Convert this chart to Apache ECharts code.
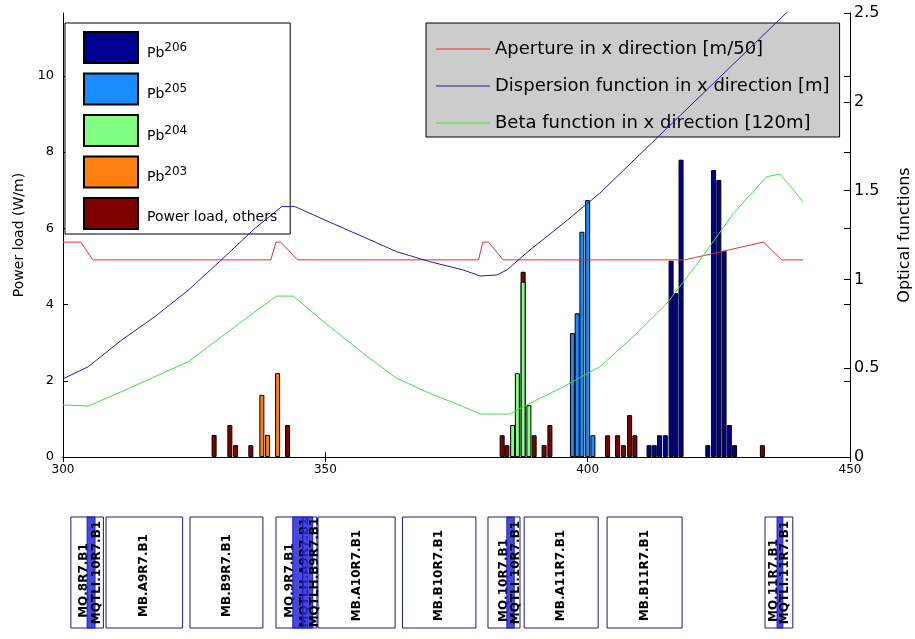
<!DOCTYPE html>
<html>
<head>
<meta charset="utf-8">
<script src="https://cdn.jsdelivr.net/npm/echarts@6/dist/echarts.min.js"></script>
<style>
html, body { margin: 0; padding: 0; background: #fff; }
#chart { width: 915px; height: 639px; }
</style>
</head>
<body>
<div id="chart"></div>
<script>
// power load histograms: position [m] / load [W/m]
var pb206Pos = [411.7, 412.7, 413.7, 414.8, 415.9, 416.8, 417.8, 422.9, 424.0, 425.0, 426.0, 427.0, 428.0];
var pb206Load = [0.31, 0.31, 0.57, 0.57, 5.15, 4.3, 7.8, 0.31, 7.53, 7.27, 5.4, 0.84, 0.31];
var pb205Pos = [397.1, 398.0, 398.9, 400.0, 401.0];
var pb205Load = [3.25, 3.77, 5.91, 6.74, 0.57];
var pb204Pos = [385.7, 386.6, 387.7, 388.8];
var pb204Load = [0.84, 2.2, 4.6, 1.36];
var pb203Pos = [337.9, 339.0, 340.9];
var pb203Load = [1.63, 0.58, 2.2];
var otherPos = [328.8, 331.8, 332.9, 335.8, 342.8, 383.7, 384.6, 387.7, 389.8, 391.7, 392.8, 403.8, 405.7, 406.8, 408.0, 409.0, 433.3];
var otherLoad = [0.58, 0.84, 0.31, 0.31, 0.84, 0.57, 0.31, 4.86, 0.57, 0.31, 0.84, 0.57, 0.57, 0.31, 1.1, 0.57, 0.31];

// optical functions (right axis)
var apertureX = [300, 303.4, 305.7, 339.6, 340.6, 341.5, 344.7, 379.2, 380.0, 381.1, 383.9, 418.5, 433.5, 437.0, 441.1];
var apertureY = [1.21, 1.21, 1.11, 1.11, 1.21, 1.21, 1.11, 1.11, 1.21, 1.21, 1.11, 1.11, 1.21, 1.11, 1.11];
var dispX = [300, 304.8, 311.2, 317.5, 323.9, 330.2, 336.6, 341.7, 344.2, 351.0, 357.2, 363.6, 369.9, 376.3, 379.5, 382.7, 384.6, 389.0, 395.4, 402.3, 412.8, 441];
var dispY = [0.44, 0.508, 0.659, 0.79, 0.94, 1.11, 1.288, 1.41, 1.41, 1.32, 1.24, 1.156, 1.10, 1.053, 1.019, 1.025, 1.053, 1.166, 1.316, 1.485, 1.785, 2.59];
var betaX = [300, 304.8, 311.2, 317.5, 323.9, 330.2, 336.6, 340.7, 343.9, 349.3, 357.2, 363.6, 369.9, 376.3, 379.5, 385.2, 389.0, 395.4, 402.3, 408.7, 415.1, 421.4, 427.8, 434.1, 436.7, 441.1];
var betaY = [0.293, 0.287, 0.368, 0.452, 0.537, 0.677, 0.818, 0.906, 0.906, 0.771, 0.584, 0.443, 0.359, 0.283, 0.242, 0.242, 0.302, 0.396, 0.508, 0.677, 0.865, 1.109, 1.372, 1.578, 1.593, 1.437];

// magnet layout below the plot
var magnetNames = ['MQ.8R7.B1', 'MB.A9R7.B1', 'MB.B9R7.B1', 'MQ.9R7.B1', 'MB.A10R7.B1', 'MB.B10R7.B1', 'MQ.10R7.B1', 'MB.A11R7.B1', 'MB.B11R7.B1', 'MQ.11R7.B1'];
var magnetStart = [301.5, 308.2, 324.2, 340.6, 348.6, 364.7, 381.0, 387.9, 403.7, 433.8];
var magnetEnd = [307.7, 322.8, 338.1, 348.4, 363.3, 378.7, 387.1, 402.0, 418.0, 439.1];
var corrNames = ['MQTLI.10R7.B1', 'MQTLH.A9R7.B1', 'MQTLH.B9R7.B1', 'MQTLI.10R7.B1', 'MQTLI.11R7.B1'];
var corrStart = [304.6, 343.8, 345.7, 384.6, 436.1];
var corrEnd = [306.1, 345.7, 347.6, 386.0, 437.2];

var FONT = 'DejaVu Sans';

function pairs(xs, ys) {
    return xs.map(function (x, i) { return [x, ys[i]]; });
}

function barSeries(name, color, xs, ys) {
    return {
        name: name,
        type: 'bar',
        xAxisIndex: 0,
        yAxisIndex: 0,
        barWidth: 5,
        barGap: '-100%',
        itemStyle: { color: color, borderColor: '#000', borderWidth: 1 },
        data: pairs(xs, ys)
    };
}

function lineSeries(name, color, xs, ys) {
    return {
        name: name,
        type: 'line',
        xAxisIndex: 0,
        yAxisIndex: 1,
        symbol: 'none',
        clip: true,
        z: 5,
        lineStyle: { color: color, width: 1 },
        itemStyle: { color: color },
        data: pairs(xs, ys)
    };
}

var chart = echarts.init(document.getElementById('chart'));

chart.setOption({
    animation: false,
    backgroundColor: '#fff',
    textStyle: { fontFamily: FONT },
    grid: [
        { left: 63, right: 65, top: 13, height: 444, containLabel: false, outerBoundsMode: 'none' },
        { left: 63, right: 65, top: 517, height: 111, containLabel: false, outerBoundsMode: 'none' }
    ],
    legend: [
        {
            orient: 'vertical',
            left: 65, top: 23,
            padding: [8, 13, 4, 18],
            itemWidth: 54, itemHeight: 31, itemGap: 8.5,
            icon: 'rect',
            backgroundColor: '#fff',
            borderColor: '#000', borderWidth: 1,
            data: ['Pb206', 'Pb205', 'Pb204', 'Pb203', 'Power load, others'],
            formatter: function (name) {
                if (name.indexOf('Pb') === 0) return '{b|Pb}{s|' + name.slice(2) + '}';
                return '{p|' + name + '}';
            },
            textStyle: {
                color: '#000',
                rich: {
                    b: { fontSize: 14, fontFamily: FONT, verticalAlign: 'bottom', lineHeight: 25, padding: [0, 0, 0, 4] },
                    s: { fontSize: 12, fontFamily: FONT, verticalAlign: 'middle', lineHeight: 25 },
                    p: { fontSize: 14, fontFamily: FONT, verticalAlign: 'bottom', lineHeight: 22, padding: [0, 0, 0, 4] }
                }
            }
        },
        {
            orient: 'vertical',
            left: 426, top: 23,
            padding: [16, 10, 4, 10],
            itemWidth: 54, itemHeight: 1, itemGap: 17,
            icon: 'rect',
            backgroundColor: '#cccccc',
            borderColor: '#000', borderWidth: 1,
            data: ['Aperture in x direction [m/50]', 'Dispersion function in x direction [m]', 'Beta function in x direction [120m]'],
            textStyle: { color: '#000', fontSize: 18, lineHeight: 20, fontFamily: FONT }
        }
    ],
    xAxis: [
        {
            type: 'value', gridIndex: 0, min: 300, max: 450, interval: 50,
            axisLine: { lineStyle: { color: '#000' } },
            axisTick: { inside: true, length: 5, lineStyle: { color: '#000' } },
            axisLabel: { color: '#000', fontSize: 12, margin: 7 },
            splitLine: { show: false }
        },
        {
            type: 'value', gridIndex: 0, position: 'top', min: 300, max: 450, interval: 50,
            axisLine: { lineStyle: { color: '#000' } },
            axisTick: { inside: true, length: 5, lineStyle: { color: '#000' } },
            axisLabel: { show: false },
            splitLine: { show: false }
        },
        {
            type: 'value', gridIndex: 1, min: 300, max: 450, show: false
        }
    ],
    yAxis: [
        {
            type: 'value', gridIndex: 0, position: 'left', min: 0, max: 11.65, interval: 2,
            name: 'Power load (W/m)', nameLocation: 'middle', nameGap: 37,
            nameTextStyle: { color: '#000', fontSize: 14 },
            axisLine: { show: true, lineStyle: { color: '#000' } },
            axisTick: { show: true, inside: true, length: 5, lineStyle: { color: '#000' } },
            axisLabel: { color: '#000', fontSize: 13, margin: 9, showMaxLabel: false },
            splitLine: { show: false }
        },
        {
            type: 'value', gridIndex: 0, position: 'right', min: 0, max: 2.5, interval: 0.5,
            name: 'Optical functions', nameLocation: 'middle', nameGap: 47,
            nameTextStyle: { color: '#000', fontSize: 16 },
            axisLine: { show: true, lineStyle: { color: '#000' } },
            axisTick: { show: true, inside: true, length: 6, lineStyle: { color: '#000' } },
            axisLabel: { color: '#000', fontSize: 16, margin: 4 },
            splitLine: { show: false }
        },
        {
            type: 'value', gridIndex: 0, position: 'right', min: 0, max: 11.65, interval: 2,
            axisLine: { show: true, lineStyle: { color: '#000' } },
            axisTick: { show: true, inside: true, length: 6, lineStyle: { color: '#000' } },
            axisLabel: { show: false },
            splitLine: { show: false }
        },
        {
            type: 'value', gridIndex: 1, min: 0, max: 1, show: false
        }
    ],
    series: [
        barSeries('Power load, others', '#800000', otherPos, otherLoad),
        barSeries('Pb203', '#ff8010', pb203Pos, pb203Load),
        barSeries('Pb204', '#80ff80', pb204Pos, pb204Load),
        barSeries('Pb205', '#1a8cff', pb205Pos, pb205Load),
        barSeries('Pb206', '#000090', pb206Pos, pb206Load),
        lineSeries('Aperture in x direction [m/50]', '#e03030', apertureX, apertureY),
        lineSeries('Dispersion function in x direction [m]', '#2020a0', dispX, dispY),
        lineSeries('Beta function in x direction [120m]', '#40e040', betaX, betaY),
        {
            type: 'custom',
            xAxisIndex: 2,
            yAxisIndex: 3,
            clip: false,
            data: pairs(magnetStart, magnetEnd),
            renderItem: function (params, api) {
                var i = params.dataIndex;
                var s = api.value(0), e = api.value(1);
                var p0 = api.coord([s, 1]);
                var p1 = api.coord([e, 0]);
                var isQuad = magnetNames[i].indexOf('MQ') === 0;
                var tx = (p0[0] + p1[0]) / 2;
                if (isQuad) {
                    var c = corrStart.findIndex(function (v, k) { return v >= s && corrEnd[k] <= e; });
                    tx = api.coord([corrStart[c], 0])[0] - 3;
                }
                return {
                    type: 'group',
                    children: [
                        {
                            type: 'rect',
                            shape: { x: p0[0], y: p0[1], width: p1[0] - p0[0], height: p1[1] - p0[1] },
                            style: { fill: '#fff', stroke: '#1a1a80', lineWidth: 1 }
                        },
                        {
                            type: 'text',
                            x: tx, y: (p0[1] + p1[1]) / 2 + (isQuad ? 8 : 3),
                            rotation: Math.PI / 2,
                            style: { text: magnetNames[i], fill: '#000', font: 'bold 12px ' + FONT, align: 'center', verticalAlign: 'middle' }
                        }
                    ]
                };
            }
        },
        {
            type: 'custom',
            xAxisIndex: 2,
            yAxisIndex: 3,
            clip: false,
            z: 3,
            data: pairs(corrStart, corrEnd),
            renderItem: function (params, api) {
                var i = params.dataIndex;
                var p0 = api.coord([api.value(0), 1]);
                var p1 = api.coord([api.value(1), 0]);
                return {
                    type: 'group',
                    children: [
                        {
                            type: 'rect',
                            shape: { x: p0[0], y: p0[1], width: Math.max(2, p1[0] - p0[0]), height: p1[1] - p0[1] },
                            style: { fill: 'rgba(40,40,210,0.85)', stroke: '#1a1acc', lineWidth: 1 }
                        },
                        {
                            type: 'text',
                            x: p1[0] + 2, y: (p0[1] + p1[1]) / 2,
                            rotation: Math.PI / 2,
                            style: { text: corrNames[i], fill: '#000', font: 'bold 12px ' + FONT, align: 'center', verticalAlign: 'middle' }
                        }
                    ]
                };
            }
        }
    ]
});
</script>
</body>
</html>
